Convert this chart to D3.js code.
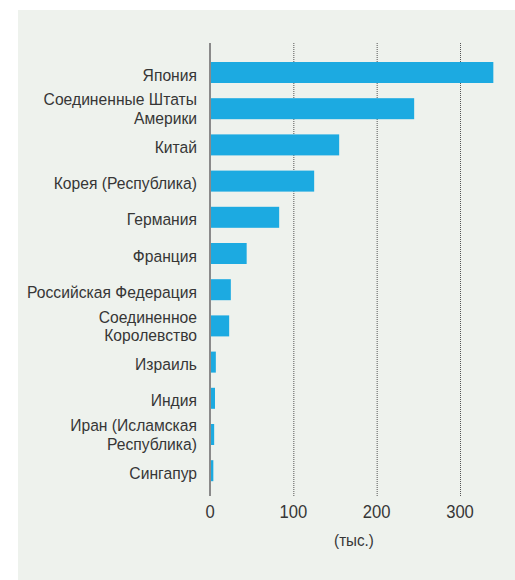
<!DOCTYPE html>
<html>
<head>
<meta charset="utf-8">
<script src="https://cdn.jsdelivr.net/npm/d3@7"></script>
<style>
  html, body { margin: 0; padding: 0; background: #ffffff; }
  svg { display: block; }
  text { font-family: "Liberation Sans", Arial, sans-serif; fill: #363636; }
</style>
</head>
<body>
<svg id="chart" width="515" height="580"></svg>
<script>
// Data
const categories = [
  "Япония",
  "Соединенные Штаты|Америки",
  "Китай",
  "Корея (Республика)",
  "Германия",
  "Франция",
  "Российская Федерация",
  "Соединенное|Королевство",
  "Израиль",
  "Индия",
  "Иран (Исламская|Республика)",
  "Сингапур"
];
const values = [340, 245, 155, 125, 83, 44, 25, 23, 7, 6, 5, 4];
const tickValues = [0, 100, 200, 300];
const unitLabel = "(тыс.)";

const svg = d3.select("#chart");
const SX = 0.95; // horizontal condensing to mimic a condensed face

// panel background
svg.append("rect")
  .attr("x", 18).attr("y", 10)
  .attr("width", 515 - 18).attr("height", 580 - 10)
  .attr("fill", "#eef2ed");

const x = d3.scaleLinear().domain([0, 300]).range([210, 460]);
const step = 36.2;
const y = d3.scaleBand()
  .domain(categories)
  .range([62 - 7.6, 62 - 7.6 + step * categories.length])
  .paddingInner(15.2 / step)
  .paddingOuter(7.6 / step);

const axisTop = 43, axisBottom = 496;

// dotted gridlines
svg.append("g")
  .selectAll("line")
  .data(tickValues.filter(d => d > 0))
  .join("line")
  .attr("x1", d => x(d) + 0.5).attr("x2", d => x(d) + 0.5)
  .attr("y1", axisTop).attr("y2", axisBottom)
  .attr("stroke", "#555555")
  .attr("stroke-width", 1)
  .attr("stroke-dasharray", "1,1");

// bars
svg.append("g")
  .selectAll("rect")
  .data(categories)
  .join("rect")
  .attr("x", x(0))
  .attr("y", d => y(d))
  .attr("width", (d, i) => x(values[i]) - x(0))
  .attr("height", y.bandwidth())
  .attr("fill", "#1caae1");

// vertical axis line
svg.append("line")
  .attr("x1", x(0)).attr("x2", x(0))
  .attr("y1", axisTop).attr("y2", axisBottom)
  .attr("stroke", "#8a8a8a")
  .attr("stroke-width", 2);

// helper: condensed text anchored at (px, py)
function ctext(parent, px, py) {
  return parent.append("g")
    .attr("transform", `translate(${px},${py}) scale(${SX},1)`)
    .append("text");
}

// category labels (multi-line labels as tspans in one text)
const lineH = 18.7;
const labels = svg.append("g");
categories.forEach(c => {
  const lines = c.split("|");
  const cy = y(c) + y.bandwidth() / 2;
  const base = lines.length === 1 ? 8 : 6;
  const top = cy + base - (lines.length - 1) / 2 * lineH;
  const t = ctext(labels, 197, top)
    .attr("text-anchor", "end")
    .attr("font-size", 16.5);
  lines.forEach((ln, i) => {
    t.append("tspan")
      .attr("x", 0)
      .attr("y", i * lineH)
      .text(ln);
  });
});

// tick labels
const ticksG = svg.append("g");
tickValues.forEach(d => {
  ctext(ticksG, x(d), 518)
    .attr("text-anchor", "middle")
    .attr("font-size", 17.5)
    .text(d);
});

// unit label
ctext(svg, 354, 546)
  .attr("text-anchor", "middle")
  .attr("font-size", 16)
  .text(unitLabel);
</script>
</body>
</html>
